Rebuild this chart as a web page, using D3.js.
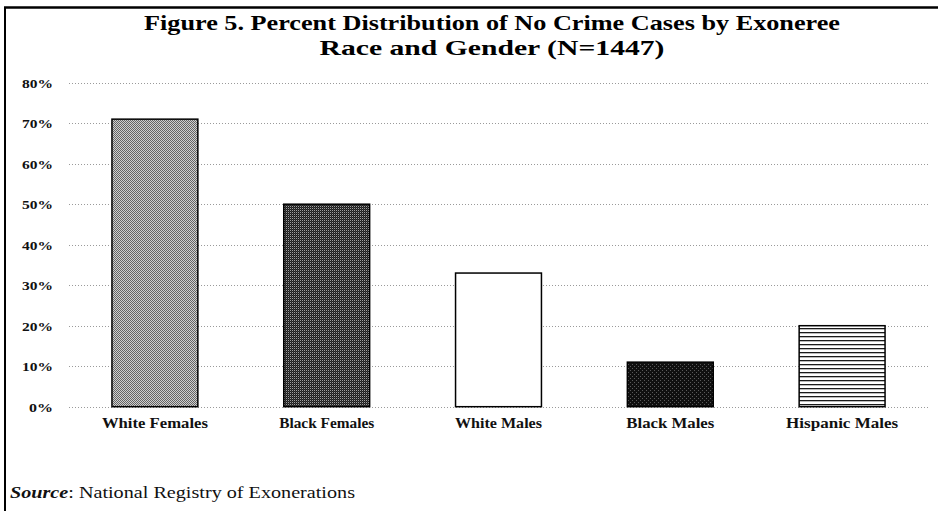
<!DOCTYPE html>
<html><head><meta charset="utf-8">
<script src="https://cdn.jsdelivr.net/npm/d3@7/dist/d3.min.js"></script>
<style>
body{margin:0;background:#fff;}
svg{display:block;}
text{font-family:"Liberation Serif","Times New Roman",serif;}
</style></head>
<body>
<svg id="chart" width="938" height="511"></svg>
<script>
const categories = ["White Females","Black Females","White Males","Black Males","Hispanic Males"];
const values = [71, 50, 33, 11, 20];
const yTicks = [0,10,20,30,40,50,60,70,80];
const titleLines = ["Figure 5. Percent Distribution of No Crime Cases by Exoneree","Race and Gender (N=1447)"];
const patternIds = ["pWF","pBF","pWM","pBM","pHM"];

const svg = d3.select("#chart");
const W = 938, H = 511;
svg.append("rect").attr("width",W).attr("height",H).attr("fill","#fff");

// patterns
const defs = svg.append("defs");
function pix(p, pts, color){ pts.forEach(([x,y])=>p.append("rect").attr("x",x).attr("y",y).attr("width",1).attr("height",1).attr("fill",color)); }
let p = defs.append("pattern").attr("id","pWF").attr("patternUnits","userSpaceOnUse").attr("width",2).attr("height",2);
p.append("rect").attr("width",2).attr("height",2).attr("fill","#cfcfcf");
pix(p,[[0,0],[1,1]],"#646464");
p = defs.append("pattern").attr("id","pBF").attr("patternUnits","userSpaceOnUse").attr("width",2).attr("height",2);
p.append("rect").attr("width",2).attr("height",2).attr("fill","#1e1e1e");
pix(p,[[0,0]],"#a0a0a0");
pix(p,[[1,1]],"#3a3a3a");
p = defs.append("pattern").attr("id","pWM").attr("patternUnits","userSpaceOnUse").attr("width",2).attr("height",2);
p.append("rect").attr("width",2).attr("height",2).attr("fill","#fff");
p = defs.append("pattern").attr("id","pBM").attr("patternUnits","userSpaceOnUse").attr("width",4).attr("height",4);
p.append("rect").attr("width",4).attr("height",4).attr("fill","#101010");
pix(p,[[0,0],[2,2]],"#5a5a5a");
p = defs.append("pattern").attr("id","pHM").attr("patternUnits","userSpaceOnUse").attr("width",4).attr("height",4);
p.append("rect").attr("width",4).attr("height",4).attr("fill","#fff");
p.append("rect").attr("x",0).attr("y",0).attr("width",4).attr("height",1.3).attr("fill","#1a1a1a");

// frame
svg.append("line").attr("x1",5).attr("x2",5).attr("y1",7).attr("y2",H).attr("stroke","#000").attr("stroke-width",2);
svg.append("line").attr("x1",4).attr("x2",W).attr("y1",7.5).attr("y2",7.5).attr("stroke","#000").attr("stroke-width",2.5);

// title
const titleG = svg.append("g");
const tl = [{t:titleLines[0], y:30, len:696},{t:titleLines[1], y:55, len:345}];
tl.forEach(d=>{
  titleG.append("text").attr("x",492).attr("y",d.y).attr("text-anchor","middle")
    .attr("font-size",21).attr("font-weight","bold").attr("fill","#000")
    .attr("textLength",d.len).attr("lengthAdjust","spacingAndGlyphs").text(d.t);
});

// scales
const x = d3.scaleBand().domain(categories).range([69,928]).paddingInner(0.5).paddingOuter(0.25);
const y = d3.scaleLinear().domain([0,80]).range([406.7,82.7]);

// gridlines
svg.append("g").selectAll("line").data(yTicks).join("line")
  .attr("x1",69).attr("x2",928).attr("y1",d=>Math.round(y(d))+0.5).attr("y2",d=>Math.round(y(d))+0.5)
  .attr("stroke","#9a9a9a").attr("stroke-width",1).attr("stroke-dasharray","1,2");

// y axis labels
const yAxis = d3.axisLeft(y).tickValues(yTicks).tickFormat(d=>d+"%").tickSize(0).tickPadding(0);
const yg = svg.append("g").attr("transform","translate(53,0)").call(yAxis);
yg.select(".domain").remove();
yg.selectAll("text").attr("font-family","'Liberation Serif',serif").attr("font-size",13).attr("font-weight","bold")
  .attr("fill","#111").attr("dy","0.35em")
  .attr("textLength",d=>d===0?24:31).attr("lengthAdjust","spacingAndGlyphs");

// bars
svg.append("g").selectAll("rect").data(values).join("rect")
  .attr("x",(d,i)=>x(categories[i]))
  .attr("width",x.bandwidth())
  .attr("y",d=>y(d))
  .attr("height",d=>y(0)-y(d))
  .attr("fill",(d,i)=>"url(#"+patternIds[i]+")")
  .attr("stroke","#000").attr("stroke-width",1.5);

// x axis labels
const xAxis = d3.axisBottom(x).tickSize(0).tickPadding(0);
const xg = svg.append("g").attr("transform","translate(0,418)").call(xAxis);
xg.select(".domain").remove();
const xLens = [106,95,87,88,112];
xg.selectAll("text").attr("font-family","'Liberation Serif',serif").attr("font-size",14).attr("font-weight","bold")
  .attr("fill","#111").attr("dy","0.71em")
  .attr("textLength",(d,i)=>xLens[i]).attr("lengthAdjust","spacingAndGlyphs");

// source
const src = svg.append("text").attr("x",10).attr("y",498).attr("font-size",17).attr("fill","#111")
  .attr("textLength",345).attr("lengthAdjust","spacingAndGlyphs");
src.append("tspan").attr("font-weight","bold").attr("font-style","italic").text("Source");
src.append("tspan").text(": National Registry of Exonerations");
</script>
</body></html>
